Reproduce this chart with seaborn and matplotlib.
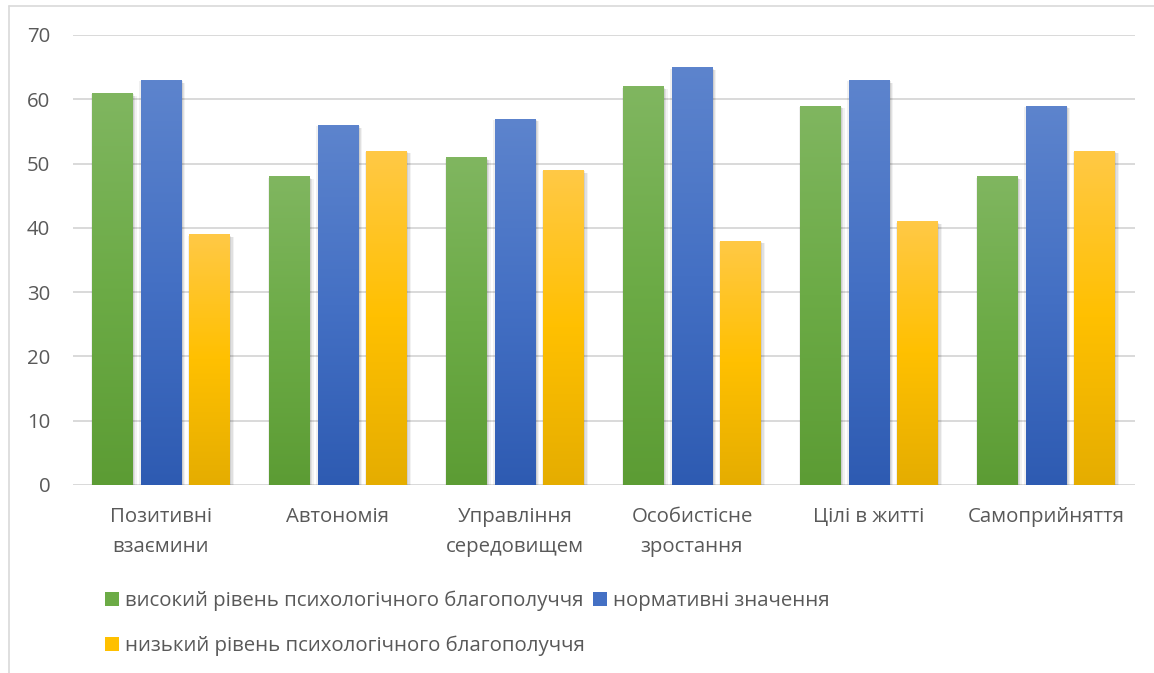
import numpy as np
import pandas as pd
import matplotlib
matplotlib.use("Agg")
import matplotlib.pyplot as plt
import matplotlib.patheffects as pe
from matplotlib.colors import LinearSegmentedColormap
from matplotlib.patches import Patch
from matplotlib.lines import Line2D
import seaborn as sns

categories = ["Позитивні\nвзаємини", "Автономія", "Управління\nсередовищем",
              "Особистісне\nзростання", "Цілі в житті", "Самоприйняття"]
series_names = ["високий рівень психологічного благополуччя",
                "нормативні значення",
                "низький рівень психологічного благополуччя"]
high_level = [61, 48, 51, 62, 59, 48]
normative = [63, 56, 57, 65, 63, 59]
low_level = [39, 52, 49, 38, 41, 52]
y_ticks = [0, 10, 20, 30, 40, 50, 60, 70]

# top / middle / bottom colours for each series' vertical gradient
gradients = {
    series_names[0]: ["#80b660", "#6cab46", "#5c9c34"],
    series_names[1]: ["#5d84cd", "#4470c4", "#2e5bb2"],
    series_names[2]: ["#ffc946", "#ffc000", "#e5ad00"],
}
base_colors = [gradients[s][1] for s in series_names]

df = pd.DataFrame({
    "category": categories * 3,
    "series": sum([[s] * len(categories) for s in series_names], []),
    "value": high_level + normative + low_level,
})

sns.set_theme(style="white")
plt.rcParams["font.family"] = ["Open Sans", "DejaVu Sans"]
text_color = "#595959"
fsize = 14.7

fig = plt.figure(figsize=(11.54, 6.73), dpi=100)
ax = fig.add_axes([72.5 / 1154, 1 - 485 / 673, 1062 / 1154, 450 / 673])

sns.barplot(data=df, x="category", y="value", hue="series",
            hue_order=series_names, order=categories, palette=base_colors,
            width=0.825, gap=0.17, errorbar=None, legend=False, ax=ax,
            linewidth=0, zorder=3)

ax.set_yticks(y_ticks)
ax.yaxis.grid(True, color="#d9d9d9", linewidth=1.4, zorder=0)
ax.set_axisbelow(True)
for side in ["left", "right", "top", "bottom"]:
    ax.spines[side].set_visible(False)
ax.set_xlabel("")
ax.set_ylabel("")
ax.tick_params(axis="y", length=0, pad=16, labelsize=fsize, labelcolor=text_color)
ax.tick_params(axis="x", length=0, pad=15.5, labelsize=fsize, labelcolor=text_color)
for lbl in ax.get_xticklabels():
    lbl.set_linespacing(1.7)
    lbl.set_verticalalignment("top")

# vertical gradient fill and soft shadow on each bar
bars = [p for p in ax.patches if p.get_height() > 0]
hue_of_bar = sum([[s] * len(categories) for s in series_names], [])
shadow = [pe.SimplePatchShadow(offset=o, shadow_rgbFace="#000000", alpha=a)
          for o, a in [((-1, -1), 0.06), ((1, -1), 0.08), ((2, -2), 0.07), ((3, -2), 0.05)]]
for bar, s in zip(bars, hue_of_bar):
    cmap = LinearSegmentedColormap.from_list("g", gradients[s][::-1])
    x0, w, h = bar.get_x(), bar.get_width(), bar.get_height()
    grad = np.linspace(0, 1, 256).reshape(-1, 1)
    im = ax.imshow(grad, cmap=cmap, origin="lower", aspect="auto",
                   extent=[x0, x0 + w, 0, h], zorder=4)
    im.set_clip_path(bar)
    bar.set_path_effects(shadow + [pe.Normal()])
ax.set_xlim(-0.5, len(categories) - 0.5)
ax.set_ylim(0, 70)

# legend: two entries on the first row, one on the second
handles = [Patch(facecolor=c, edgecolor="none") for c in base_colors]
order = [0, 2, 1]
leg = fig.legend([handles[i] for i in order], [series_names[i] for i in order],
                 loc="upper left", ncol=2, frameon=False,
                 fontsize=fsize, labelcolor=text_color, handlelength=0.69,
                 handleheight=0.69, handletextpad=0.3, columnspacing=0.4,
                 labelspacing=1.18, borderaxespad=0, borderpad=0)
leg.set_bbox_to_anchor((105 / 1154, 1 - 591 / 673), transform=fig.transFigure)

# chart area border (top and left edges)
fig.add_artist(Line2D([9 / 1154, 1.0], [1 - 6 / 673, 1 - 6 / 673],
                      transform=fig.transFigure, color="#d9d9d9", linewidth=1.2))
fig.add_artist(Line2D([9 / 1154, 9 / 1154], [0, 1 - 6 / 673],
                      transform=fig.transFigure, color="#d9d9d9", linewidth=1.2))

fig.savefig("out.png", dpi=100, facecolor="white")
